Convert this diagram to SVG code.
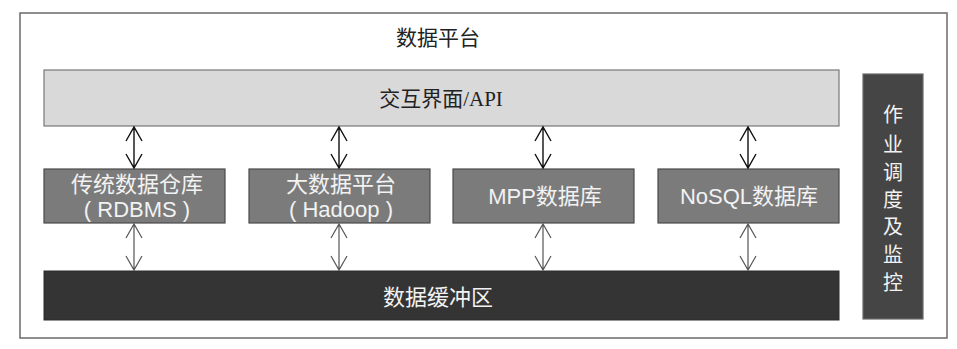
<svg xmlns="http://www.w3.org/2000/svg" width="957" height="349" viewBox="0 0 957 349">
<style>
.serif{font-family:"Liberation Serif","Noto Sans CJK SC",serif;font-size:21px;fill:#222;text-anchor:middle;dominant-baseline:central}
.lt{font-family:"Liberation Sans","Noto Sans CJK SC",sans-serif;font-size:22px;fill:#f2f2f2;text-anchor:middle;dominant-baseline:central}
.node{fill:#7b7b7b;stroke:#4a4a4a;stroke-width:1.2}
.a1{stroke:#111;stroke-width:1.4;fill:none}
.a2{stroke:#555;stroke-width:1.2;fill:none}
</style>
<rect width="957" height="349" fill="#fff"/>
<g id="platform">
<rect x="20" y="13" width="927" height="325" fill="#fff" stroke="#6a6a6a" stroke-width="1.5"/>
<text class="serif" x="438" y="38">数据平台</text>
</g>
<g id="api">
<rect x="44" y="70" width="795" height="56" fill="#d9d9d9" stroke="#777" stroke-width="1.2"/>
<text class="serif" x="441" y="99">交互界面/API</text>
</g>
<g id="rdbms">
<rect class="node" x="44" y="169" width="181" height="54"/>
<text class="lt" x="137" y="184">传统数据仓库</text>
<text class="lt" x="137" y="209" xml:space="preserve">( RDBMS )</text>
</g>
<g id="hadoop">
<rect class="node" x="249" y="169" width="181" height="54"/>
<text class="lt" x="341" y="184">大数据平台</text>
<text class="lt" x="341" y="209" xml:space="preserve">( Hadoop )</text>
</g>
<g id="mpp">
<rect class="node" x="453" y="169" width="181" height="54"/>
<text class="lt" x="545" y="196">MPP数据库</text>
</g>
<g id="nosql">
<rect class="node" x="658" y="169" width="181" height="54"/>
<text class="lt" x="749" y="196">NoSQL数据库</text>
</g>
<g id="buffer">
<rect x="44" y="271" width="795" height="49" fill="#343434" stroke="#2a2a2a" stroke-width="1"/>
<text class="lt" x="438" y="297">数据缓冲区</text>
</g>
<g id="scheduler">
<rect x="863" y="74" width="60" height="245" fill="#454545" stroke="#6a6a6a" stroke-width="1.2"/>
<g class="lt" style="font-size:20px">
<text x="893" y="115">作</text>
<text x="893" y="145">业</text>
<text x="893" y="173">调</text>
<text x="893" y="200">度</text>
<text x="893" y="227">及</text>
<text x="893" y="255">监</text>
<text x="893" y="283">控</text>
</g>
</g>
<g id="connectors">
<path class="a1" d="M134 127V168M126 141L134 127L142 141M126 154L134 168L142 154"/>
<path class="a1" d="M339 127V168M331 141L339 127L347 141M331 154L339 168L347 154"/>
<path class="a1" d="M543 127V168M535 141L543 127L551 141M535 154L543 168L551 154"/>
<path class="a1" d="M748 127V168M740 141L748 127L756 141M740 154L748 168L756 154"/>
<path class="a2" d="M134 224V270M126 238L134 224L142 238M126 256L134 270L142 256"/>
<path class="a2" d="M339 224V270M331 238L339 224L347 238M331 256L339 270L347 256"/>
<path class="a2" d="M543 224V270M535 238L543 224L551 238M535 256L543 270L551 256"/>
<path class="a2" d="M748 224V270M740 238L748 224L756 238M740 256L748 270L756 256"/>
</g>
</svg>
